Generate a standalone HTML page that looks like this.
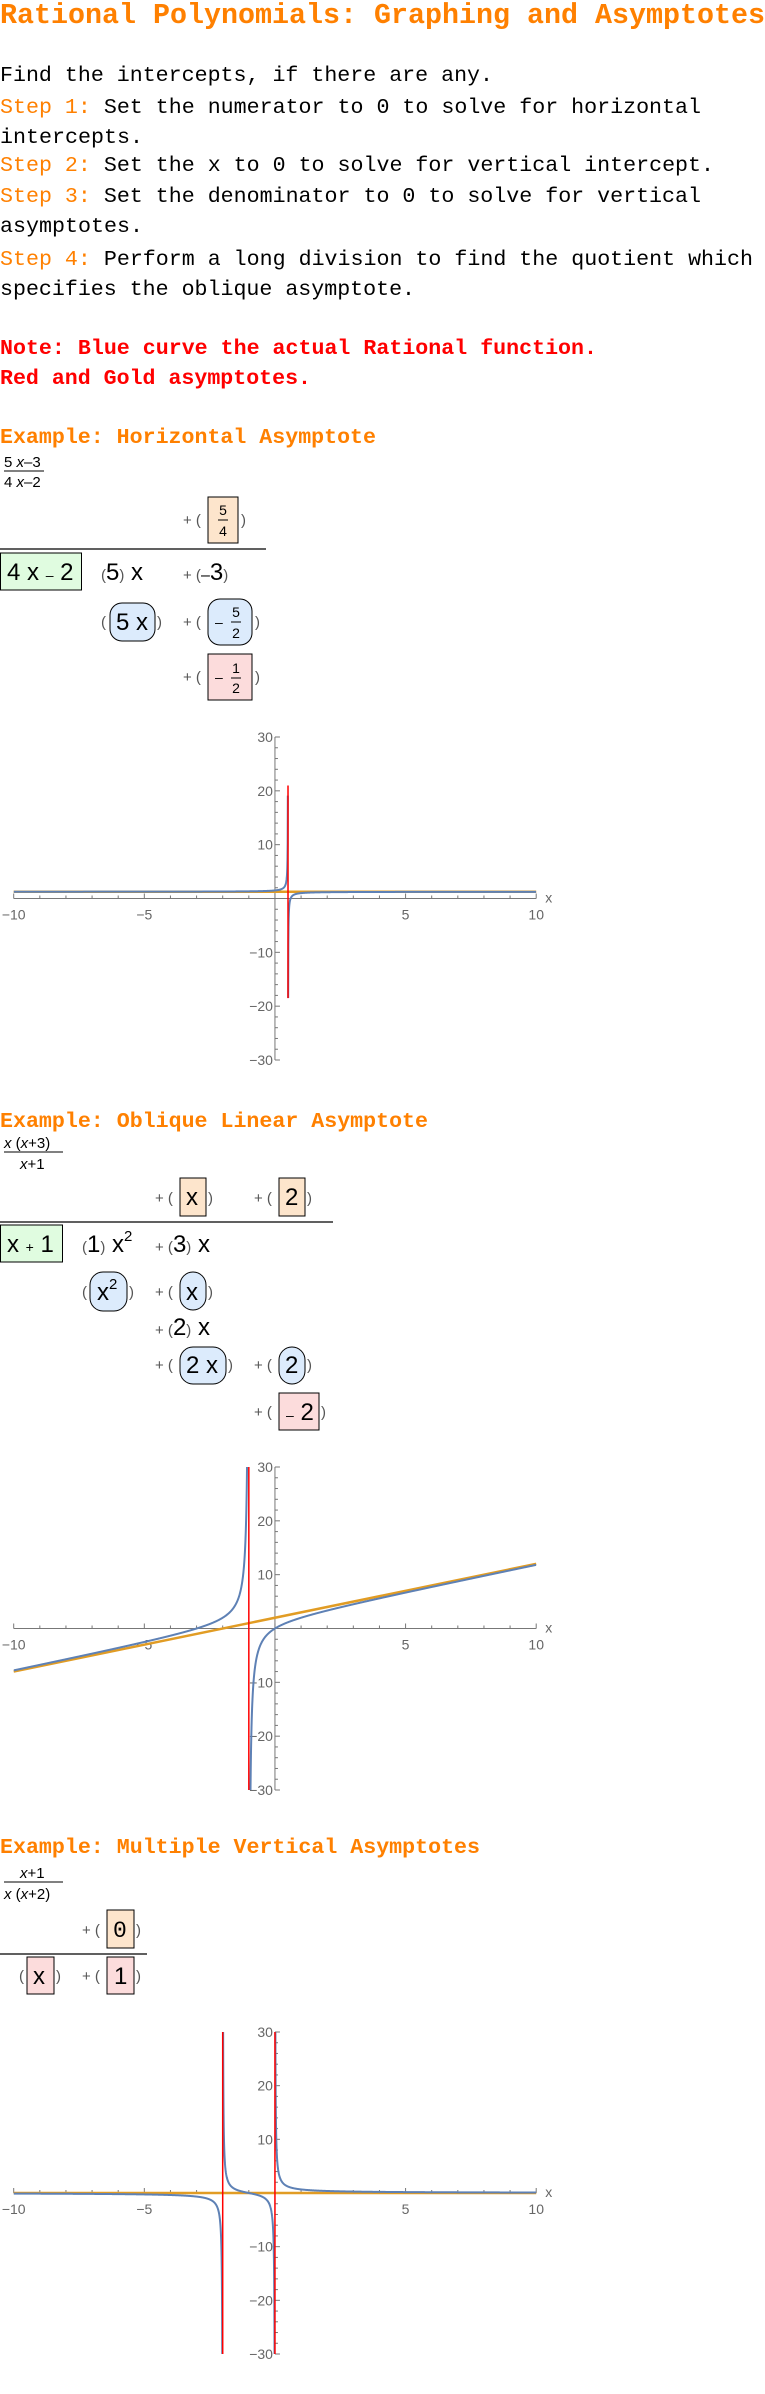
<!DOCTYPE html>
<html><head><meta charset="utf-8"><style>
html,body{margin:0;padding:0;background:#fff;overflow:hidden;}
svg{display:block;}
.mono{font-family:"Liberation Mono",monospace;font-size:21px;}
.or{fill:#ff8000;}
.m{font-family:"Liberation Sans",sans-serif;fill:#000;}
.p{font-family:"Liberation Sans",sans-serif;fill:#555;font-size:15px;}
.tk{font-family:"Liberation Sans",sans-serif;fill:#666;font-size:14px;}
</style></head><body>
<svg id="page" width="765" height="2394" viewBox="0 0 765 2394" xmlns="http://www.w3.org/2000/svg">
<text x="0" y="23" font-family="Liberation Mono,monospace" font-weight="bold" font-size="29" fill="#ff8000" textLength="765" lengthAdjust="spacingAndGlyphs">Rational Polynomials: Graphing and Asymptotes</text>
<g class="mono">
<text x="0" y="81" textLength="493" lengthAdjust="spacingAndGlyphs">Find the intercepts, if there are any.</text>
<text x="0" y="113" textLength="701" lengthAdjust="spacingAndGlyphs"><tspan class="or">Step 1:</tspan> Set the numerator to 0 to solve for horizontal</text>
<text x="0" y="143" textLength="143" lengthAdjust="spacingAndGlyphs">intercepts.</text>
<text x="0" y="171" textLength="714" lengthAdjust="spacingAndGlyphs"><tspan class="or">Step 2:</tspan> Set the x to 0 to solve for vertical intercept.</text>
<text x="0" y="202" textLength="701" lengthAdjust="spacingAndGlyphs"><tspan class="or">Step 3:</tspan> Set the denominator to 0 to solve for vertical</text>
<text x="0" y="232" textLength="143" lengthAdjust="spacingAndGlyphs">asymptotes.</text>
<text x="0" y="265" textLength="753" lengthAdjust="spacingAndGlyphs"><tspan class="or">Step 4:</tspan> Perform a long division to find the quotient which</text>
<text x="0" y="295" textLength="415" lengthAdjust="spacingAndGlyphs">specifies the oblique asymptote.</text>
<text x="0" y="354" fill="#ff0000" font-weight="bold" textLength="597" lengthAdjust="spacingAndGlyphs">Note: Blue curve the actual Rational function.</text>
<text x="0" y="384" fill="#ff0000" font-weight="bold" textLength="311" lengthAdjust="spacingAndGlyphs">Red and Gold asymptotes.</text>
</g>

<!-- Example 1 -->
<text class="mono or" x="0" y="443" font-weight="bold" textLength="376" lengthAdjust="spacingAndGlyphs">Example: Horizontal Asymptote</text>
<g>
<text class="m" x="4" y="467" font-size="15">5 <tspan font-style="italic">x</tspan>–3</text>
<line x1="4" y1="471" x2="44" y2="471" stroke="#000" stroke-width="1"/>
<text class="m" x="4" y="487" font-size="15">4 <tspan font-style="italic">x</tspan>–2</text>
<text class="p" x="183" y="525">+ (</text><text class="p" x="241" y="525">)</text>
<rect x="208" y="497" width="30" height="46" fill="#fde5cc" stroke="#000"/>
<text class="m" x="223" y="515" font-size="14" text-anchor="middle">5</text><line x1="218" y1="520" x2="228" y2="520" stroke="#000"/><text class="m" x="223" y="536" font-size="14" text-anchor="middle">4</text>
<line x1="0" y1="549" x2="266" y2="549" stroke="#000" stroke-width="1.2"/>
<rect x="0.5" y="553" width="81" height="37" fill="#e0fce0" stroke="#000"/>
<text class="m" x="7" y="580" font-size="24">4 x <tspan font-size="14">–</tspan> 2</text>
<text class="m" x="101" y="580" font-size="24"><tspan class="p">(</tspan>5<tspan class="p">)</tspan> x</text>
<text class="m" x="183" y="580" font-size="24"><tspan class="p">+ (</tspan><tspan font-size="16">–</tspan>3<tspan class="p">)</tspan></text>
<text class="p" x="101" y="627">(</text><text class="p" x="157" y="627">)</text>
<rect x="110" y="603" width="45" height="38" rx="12" fill="#dcebfc" stroke="#000"/>
<text class="m" x="116" y="630" font-size="24">5 x</text>
<text class="p" x="183" y="627">+ (</text><text class="p" x="255" y="627">)</text>
<rect x="208" y="599" width="44" height="46" rx="12" fill="#dcebfc" stroke="#000"/>
<text class="m" x="215" y="627" font-size="14">–</text><text class="m" x="236" y="617" font-size="14" text-anchor="middle">5</text><line x1="231" y1="622" x2="241" y2="622" stroke="#000"/><text class="m" x="236" y="638" font-size="14" text-anchor="middle">2</text>
<text class="p" x="183" y="682">+ (</text><text class="p" x="255" y="682">)</text>
<rect x="208" y="654" width="44" height="46" fill="#fcdcdc" stroke="#000"/>
<text class="m" x="215" y="682" font-size="14">–</text><text class="m" x="236" y="673" font-size="14" text-anchor="middle">1</text><line x1="231" y1="678" x2="241" y2="678" stroke="#000"/><text class="m" x="236" y="693" font-size="14" text-anchor="middle">2</text>
</g>
<g id="plot1"></g>

<!-- Example 2 -->
<text class="mono or" x="0" y="1127" font-weight="bold" textLength="428" lengthAdjust="spacingAndGlyphs">Example: Oblique Linear Asymptote</text>
<g>
<text class="m" x="4" y="1148" font-size="15"><tspan font-style="italic">x</tspan> (<tspan font-style="italic">x</tspan>+3)</text>
<line x1="4" y1="1152" x2="63" y2="1152" stroke="#000"/>
<text class="m" x="20" y="1169" font-size="15"><tspan font-style="italic">x</tspan>+1</text>
<text class="p" x="155" y="1203">+ (</text><text class="p" x="208" y="1203">)</text>
<rect x="180" y="1178" width="26" height="38" fill="#fde5cc" stroke="#000"/>
<text class="m" x="186" y="1205" font-size="24">x</text>
<text class="p" x="254" y="1203">+ (</text><text class="p" x="307" y="1203">)</text>
<rect x="279" y="1178" width="26" height="38" fill="#fde5cc" stroke="#000"/>
<text class="m" x="285" y="1205" font-size="24">2</text>
<line x1="0" y1="1222" x2="333" y2="1222" stroke="#000" stroke-width="1.2"/>
<rect x="0.5" y="1225" width="62" height="37" fill="#e0fce0" stroke="#000"/>
<text class="m" x="7" y="1252" font-size="24">x <tspan font-size="14">+</tspan> 1</text>
<text class="m" x="82" y="1252" font-size="24"><tspan class="p">(</tspan>1<tspan class="p">)</tspan> x<tspan font-size="15" dy="-11">2</tspan></text>
<text class="m" x="155" y="1252" font-size="24"><tspan class="p">+ (</tspan>3<tspan class="p">)</tspan> x</text>
<text class="p" x="82" y="1297">(</text><text class="p" x="129" y="1297">)</text>
<rect x="90" y="1272" width="37" height="39" rx="13" fill="#dcebfc" stroke="#000"/>
<text class="m" x="97" y="1300" font-size="24">x<tspan font-size="15" dy="-11">2</tspan></text>
<text class="p" x="155" y="1297">+ (</text><text class="p" x="208" y="1297">)</text>
<rect x="180" y="1272" width="26" height="38" rx="13" fill="#dcebfc" stroke="#000"/>
<text class="m" x="186" y="1300" font-size="24">x</text>
<text class="m" x="155" y="1335" font-size="24"><tspan class="p">+ (</tspan>2<tspan class="p">)</tspan> x</text>
<text class="p" x="155" y="1370">+ (</text><text class="p" x="228" y="1370">)</text>
<rect x="180" y="1347" width="46" height="37" rx="13" fill="#dcebfc" stroke="#000"/>
<text class="m" x="186" y="1373" font-size="24">2 x</text>
<text class="p" x="254" y="1370">+ (</text><text class="p" x="307" y="1370">)</text>
<rect x="279" y="1347" width="26" height="37" rx="13" fill="#dcebfc" stroke="#000"/>
<text class="m" x="285" y="1373" font-size="24">2</text>
<text class="p" x="254" y="1417">+ (</text><text class="p" x="321" y="1417">)</text>
<rect x="279" y="1393" width="40" height="37" fill="#fcdcdc" stroke="#000"/>
<text class="m" x="286" y="1420" font-size="24"><tspan font-size="14">–</tspan> 2</text>
</g>
<g id="plot2"></g>

<!-- Example 3 -->
<text class="mono or" x="0" y="1853" font-weight="bold" textLength="480" lengthAdjust="spacingAndGlyphs">Example: Multiple Vertical Asymptotes</text>
<g>
<text class="m" x="20" y="1878" font-size="15"><tspan font-style="italic">x</tspan>+1</text>
<line x1="4" y1="1882" x2="63" y2="1882" stroke="#000"/>
<text class="m" x="4" y="1899" font-size="15"><tspan font-style="italic">x</tspan> (<tspan font-style="italic">x</tspan>+2)</text>
<text class="p" x="82" y="1935">+ (</text><text class="p" x="136" y="1935">)</text>
<rect x="107" y="1910" width="27" height="38" fill="#fde5cc" stroke="#000"/>
<text x="113" y="1937" font-family="Liberation Mono,monospace" font-size="23">0</text>
<line x1="0" y1="1954" x2="147" y2="1954" stroke="#000" stroke-width="1.2"/>
<text class="p" x="19" y="1981">(</text><text class="p" x="56" y="1981">)</text>
<rect x="27" y="1957" width="27" height="37" fill="#fcdcdc" stroke="#000"/>
<text class="m" x="33" y="1984" font-size="24">x</text>
<text class="p" x="82" y="1981">+ (</text><text class="p" x="136" y="1981">)</text>
<rect x="107" y="1957" width="27" height="37" fill="#fcdcdc" stroke="#000"/>
<text class="m" x="114" y="1984" font-size="24">1</text>
</g>
<g id="plot3"></g>
</svg>
<script>
// chart data
const xTickLabels = [-10, -5, 5, 10];
const yTickLabels = [-30, -20, -10, 10, 20, 30];
const p1Num = [5, -3];
const p1Den = [4, -2];
const p1VAsym = [0.5];
const p1Asym = [0, 1.25];
const p1Clip = [-18.5, 21];
const p2Num = [1, 3, 0];
const p2Den = [1, 1];
const p2VAsym = [-1];
const p2Asym = [1, 2];
const p2Clip = [-30, 30];
const p3Num = [1, 1];
const p3Den = [1, 2, 0];
const p3VAsym = [-2, 0];
const p3Asym = [0, 0];
const p3Clip = [-30, 30];

const NS = "http://www.w3.org/2000/svg";
function poly(c, x) { let s = 0; for (const k of c) s = s * x + k; return s; }
function mk(tag, attrs, parent) {
  const e = document.createElementNS(NS, tag);
  for (const k in attrs) e.setAttribute(k, attrs[k]);
  parent.appendChild(e); return e;
}
function drawPlot(id, top, bottom, num, den, vas, asym, clip) {
  const g = document.getElementById(id);
  const L = 13.7, R = 536.2;
  const sx = x => L + (x + 10) / 20 * (R - L);
  const sy = y => top + (30 - y) / 60 * (bottom - top);
  const ax = sx(0), ay = sy(0);
  const axis = mk('g', {}, g);
  
  
  mk('line', {x1: L, y1: ay, x2: R, y2: ay, stroke: '#777', 'stroke-width': 1}, axis);
  mk('line', {x1: ax, y1: top, x2: ax, y2: bottom, stroke: '#777', 'stroke-width': 1}, axis);
  for (let v = -10; v <= 10; v++) {
    const big = v % 5 === 0;
    mk('line', {x1: sx(v), y1: ay, x2: sx(v), y2: ay - (big ? 5 : 3), stroke: '#777', 'stroke-width': 1}, axis);
  }
  for (let v = -30; v <= 30; v += 2) {
    const big = v % 10 === 0;
    mk('line', {x1: ax, y1: sy(v), x2: ax + (big ? 5 : 3), y2: sy(v), stroke: '#777', 'stroke-width': 1}, axis);
  }
  xTickLabels.forEach(v => {
    const t = mk('text', {x: sx(v), y: ay + 21, 'text-anchor': 'middle', class: 'tk'}, axis);
    
    
    t.textContent = (v < 0 ? '\u2212' : '') + Math.abs(v);
  });
  yTickLabels.forEach(v => {
    const t = mk('text', {x: ax - 2, y: sy(v) + 5, 'text-anchor': 'end', class: 'tk'}, axis);
    
    
    t.textContent = (v < 0 ? '\u2212' : '') + Math.abs(v);
  });
  const xl = mk('text', {x: R + 9, y: ay + 4, class: 'tk'}, axis);
  
  
  xl.textContent = 'x';
  const cid = id + 'clip';
  const defs = mk('defs', {}, g);
  const cp = mk('clipPath', {id: cid}, defs);
  mk('rect', {x: L, y: sy(clip[1]), width: R - L, height: sy(clip[0]) - sy(clip[1])}, cp);
  const al = mk('line', {x1: sx(-10), y1: sy(asym[0] * -10 + asym[1]), x2: sx(10), y2: sy(asym[0] * 10 + asym[1]), stroke: '#e19c24', 'stroke-width': 2.5}, g);
  
  
  const breaks = [-10, ...vas, 10];
  let d = '';
  for (let i = 0; i < breaks.length - 1; i++) {
    const a = breaks[i], b = breaks[i + 1], n = 1500;
    let first = true;
    for (let k = 0; k <= n; k++) {
      const x = a + (b - a) * k / n;
      const dd = poly(den, x);
      if (Math.abs(dd) < 1e-9) continue;
      let y = poly(num, x) / dd;
      y = Math.max(-200, Math.min(200, y));
      d += (first ? 'M' : 'L') + sx(x).toFixed(2) + ',' + sy(y).toFixed(2);
      first = false;
    }
  }
  const curve = mk('path', {d: d, fill: 'none', stroke: '#5e81b5', 'stroke-width': 2, 'clip-path': 'url(#' + cid + ')'}, g);
  
  
  vas.forEach(v => {
    const l = mk('line', {x1: sx(v), y1: sy(clip[1]), x2: sx(v), y2: sy(clip[0]), stroke: '#ff0000', 'stroke-width': 1.5}, g);
    
    
  });
}
drawPlot('plot1', 737, 1060, p1Num, p1Den, p1VAsym, p1Asym, p1Clip);
drawPlot('plot2', 1467, 1790, p2Num, p2Den, p2VAsym, p2Asym, p2Clip);
drawPlot('plot3', 2032, 2354, p3Num, p3Den, p3VAsym, p3Asym, p3Clip);
</script>
</body></html>
